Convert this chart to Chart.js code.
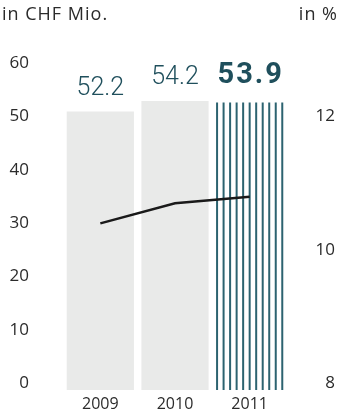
<!DOCTYPE html>
<html>
<head>
<meta charset="utf-8">
<script src="https://cdn.jsdelivr.net/npm/chart.js@4/dist/chart.umd.min.js"></script>
<style>
  html, body { margin: 0; padding: 0; background: #fff; overflow: hidden; }
  canvas { display: block; }
</style>
</head>
<body>
<canvas id="ebitChart" width="339" height="415"></canvas>
<script>
// data
const years = ['2009', '2010', '2011'];
const valuesMio = [52.2, 54.2, 53.9];      // bars, in CHF Mio.
const marginPct = [10.5, 10.8, 10.9];      // line, in %
const leftTicks = [0, 10, 20, 30, 40, 50, 60];
const rightTicks = [8, 10, 12];

const TEAL = '#1f4f5c';
const STRIPE = '#2c6370';
const GREY = '#e9eae9';
const TEXT = '#2b2b2b';

// stripes for the last bar + value labels above the bars
const barExtras = {
    id: 'barExtras',
    afterDatasetDraw(chart, args) {
        if (args.meta.type !== 'bar') return;
        const ctx = chart.ctx;
        args.meta.data.forEach((bar, i) => {
            const left = bar.x - bar.width / 2;
            if (i === valuesMio.length - 1) {
                const n = 11;
                const step = (bar.width - 2) / (n - 1);
                ctx.save();
                ctx.strokeStyle = STRIPE;
                ctx.lineWidth = 2;
                for (let k = 0; k < n; k++) {
                    const x = left + 1 + k * step;
                    ctx.beginPath();
                    ctx.moveTo(x, bar.y);
                    ctx.lineTo(x, bar.base);
                    ctx.stroke();
                }
                ctx.restore();
            }
            // value label
            ctx.save();
            ctx.fillStyle = TEAL;
            ctx.textAlign = 'center';
            ctx.textBaseline = 'alphabetic';
            if (i === valuesMio.length - 1) {
                ctx.font = '700 29px Roboto';
                ctx.letterSpacing = '2px';
                ctx.fillText(valuesMio[i].toFixed(1), bar.x + 1, bar.y - 20);
            } else {
                ctx.font = '300 25px Roboto';
                ctx.fillText(valuesMio[i].toFixed(1), bar.x, bar.y - 17);
            }
            ctx.restore();
        });
    },
    afterDraw(chart) {
        const ctx = chart.ctx;
        ctx.save();
        ctx.fillStyle = TEXT;
        ctx.font = '18px "Open Sans"';
        ctx.textBaseline = 'alphabetic';
        ctx.letterSpacing = '1px';
        ctx.textAlign = 'left';
        ctx.fillText('in CHF Mio.', 2, 20);
        ctx.textAlign = 'right';
        ctx.fillText('in %', 338, 20);
        ctx.restore();
    }
};

const ctx = document.getElementById('ebitChart').getContext('2d');

new Chart(ctx, {
    data: {
        labels: years,
        datasets: [{
            type: 'line',
            label: 'in %',
            data: marginPct,
            yAxisID: 'yRight',
            borderColor: '#1a1a1a',
            borderWidth: 2.5,
            pointRadius: 0,
            tension: 0,
            order: 1
        }, {
            type: 'bar',
            label: 'in CHF Mio.',
            data: valuesMio,
            yAxisID: 'yLeft',
            backgroundColor: [GREY, GREY, '#ffffff'],
            borderWidth: 0,
            barPercentage: 0.9,
            categoryPercentage: 1,
            order: 2
        }]
    },
    options: {
        responsive: false,
        animation: false,
        events: [],
        layout: {
            padding: { top: 70, right: 4, bottom: 0, left: 0 }
        },
        plugins: {
            legend: { display: false },
            tooltip: { enabled: false }
        },
        scales: {
            x: {
                afterFit: (scale) => { scale.height = 25; },
                grid: { display: false, drawTicks: false },
                border: { display: false },
                ticks: {
                    color: TEXT,
                    font: { family: 'Open Sans', size: 16 },
                    padding: 5
                }
            },
            yLeft: {
                position: 'left',
                min: 0,
                max: 60,
                afterBuildTicks: (scale) => {
                    scale.ticks = leftTicks.map(v => ({ value: v }));
                },
                afterFit: (scale) => {
                    scale.width = 63;
                    scale.paddingTop = 0;
                    scale.paddingBottom = 0;
                },
                grid: { display: false, drawTicks: false },
                border: { display: false },
                ticks: {
                    color: TEXT,
                    font: { family: 'Open Sans', size: 17 },
                    padding: 34,
                    labelOffset: -7
                }
            },
            yRight: {
                position: 'right',
                min: 8,
                max: 12.8,
                afterBuildTicks: (scale) => {
                    scale.ticks = rightTicks.map(v => ({ value: v }));
                },
                afterFit: (scale) => {
                    scale.width = 48;
                    scale.paddingTop = 0;
                    scale.paddingBottom = 0;
                },
                grid: { display: false, drawTicks: false },
                border: { display: false },
                ticks: {
                    color: TEXT,
                    font: { family: 'Open Sans', size: 17 },
                    padding: 24,
                    crossAlign: 'far',
                    labelOffset: -7
                }
            }
        }
    },
    plugins: [barExtras]
});
</script>
</body>
</html>
